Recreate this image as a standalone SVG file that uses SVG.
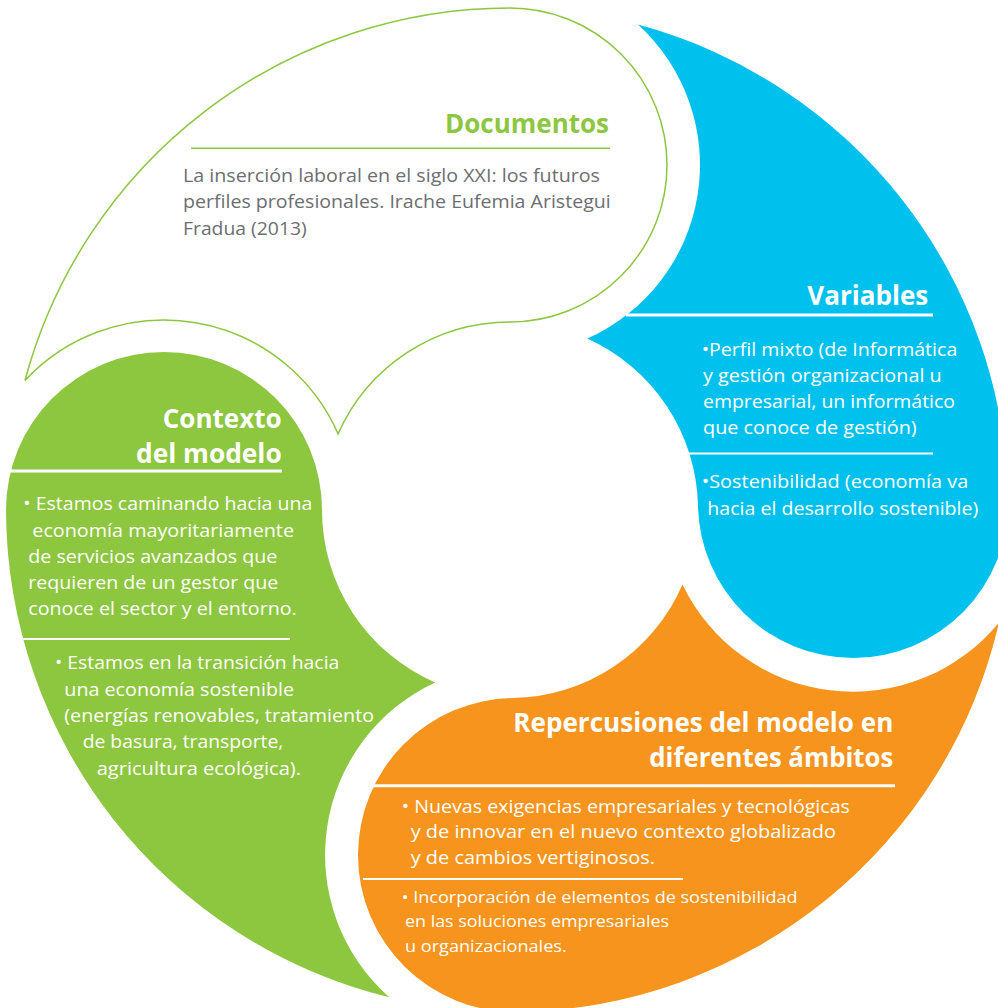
<svg xmlns="http://www.w3.org/2000/svg" width="998" height="1008" viewBox="0 0 998 1008">
<style>
.b{font-family:"Open Sans","Liberation Sans",sans-serif;font-size:18px;fill:#fff}
.gr{fill:#6d6e71}
.h{font-family:"Open Sans","Liberation Sans",sans-serif;font-weight:700;font-size:26px;fill:#fff}
.hg{fill:#8dc63f}
.wl{stroke:#fff;fill:none}
</style>
<rect width="998" height="1008" fill="#fff"/>

<g id="documentos">
<path d="M510,322 A157,157 0 0 0 667,165 A157,157 0 0 0 510,8 A502,502 0 0 0 25,380.5 A190,190 0 0 1 338.1,433.9 A188,188 0 0 1 510,322 Z" fill="#fff" stroke="#8dc63f" stroke-width="1.5"/>
<text class="h hg" x="445" y="133" textLength="164" lengthAdjust="spacingAndGlyphs">Documentos</text>
<line x1="191" y1="148.3" x2="610" y2="148.3" stroke="#8dc63f" stroke-width="1.6"/>
<text class="b gr" x="183" y="181.7" textLength="417" lengthAdjust="spacingAndGlyphs">La inserción laboral en el siglo XXI: los futuros</text>
<text class="b gr" x="183" y="208.3" textLength="427.7" lengthAdjust="spacingAndGlyphs">perfiles profesionales. Irache Eufemia Aristegui</text>
<text class="b gr" x="183" y="235" textLength="123.7" lengthAdjust="spacingAndGlyphs">Fradua (2013)</text>
</g>

<g id="variables">
<path d="M698,506.2 A155,155 0 0 0 853,658 A155,155 0 0 0 1008,500 A500,500 0 0 0 638,24.6 A190,190 0 0 1 587.2,338.6 A188,188 0 0 1 698,506.2 Z" fill="#00c1ed"/>
<text class="h" x="807.3" y="305" textLength="121" lengthAdjust="spacingAndGlyphs">Variables</text>
<line class="wl" x1="626" y1="315" x2="933" y2="315" stroke-width="3"/>
<text class="b" x="701.7" y="356" textLength="255.6" lengthAdjust="spacingAndGlyphs">•Perfil mixto (de Informática</text>
<text class="b" x="703" y="382.3" textLength="238.7" lengthAdjust="spacingAndGlyphs">y gestión organizacional u</text>
<text class="b" x="703" y="408.3" textLength="252" lengthAdjust="spacingAndGlyphs">empresarial, un informático</text>
<text class="b" x="703" y="434.3" textLength="213.7" lengthAdjust="spacingAndGlyphs">que conoce de gestión)</text>
<line class="wl" x1="688" y1="453.5" x2="933" y2="453.5" stroke-width="2"/>
<text class="b" x="701.7" y="488.3" textLength="266.6" lengthAdjust="spacingAndGlyphs">•Sostenibilidad (economía va</text>
<text class="b" x="707.3" y="515" textLength="271" lengthAdjust="spacingAndGlyphs">hacia el desarrollo sostenible)</text>
</g>

<g id="repercusiones">
<path d="M512.7,698 A157,157 0 0 0 358,855 A157,157 0 0 0 517,1012 A502,502 0 0 0 999,622.6 A189,189 0 0 1 682.5,584.5 A188,188 0 0 1 512.7,698 Z" fill="#f7941e"/>
<text class="h" x="513.3" y="731.7" textLength="380" lengthAdjust="spacingAndGlyphs">Repercusiones del modelo en</text>
<text class="h" x="649.3" y="767.3" textLength="244" lengthAdjust="spacingAndGlyphs">diferentes ámbitos</text>
<line class="wl" x1="372" y1="785.7" x2="895" y2="785.7" stroke-width="3"/>
<text class="b" x="401.7" y="812.7" textLength="448.3" lengthAdjust="spacingAndGlyphs">• Nuevas exigencias empresariales y tecnológicas</text>
<text class="b" x="410.7" y="838.3" textLength="425.3" lengthAdjust="spacingAndGlyphs">y de innovar en el nuevo contexto globalizado</text>
<text class="b" x="410.7" y="864" textLength="244.3" lengthAdjust="spacingAndGlyphs">y de cambios vertiginosos.</text>
<line class="wl" x1="363" y1="879" x2="683" y2="879" stroke-width="2"/>
<text class="b" x="401.7" y="903.3" textLength="396" lengthAdjust="spacingAndGlyphs" style="font-size:17px">• Incorporación de elementos de sostenibilidad</text>
<text class="b" x="405" y="927.3" textLength="264" lengthAdjust="spacingAndGlyphs" style="font-size:17px">en las soluciones empresariales</text>
<text class="b" x="405" y="951.7" textLength="161.7" lengthAdjust="spacingAndGlyphs" style="font-size:17px">u organizacionales.</text>
</g>

<g id="contexto">
<path d="M322,510 A158,158 0 0 0 164,352 A158,158 0 0 0 6,510 A503,503 0 0 0 389.2,997.2 A190,190 0 0 1 435.2,682.5 A188,188 0 0 1 322,510 Z" fill="#8dc63f"/>
<text class="h" x="162.7" y="428.3" textLength="119" lengthAdjust="spacingAndGlyphs">Contexto</text>
<text class="h" x="136" y="463.3" textLength="145.7" lengthAdjust="spacingAndGlyphs">del modelo</text>
<line class="wl" x1="11" y1="471" x2="282" y2="471" stroke-width="3"/>
<text class="b" x="23.3" y="510" textLength="289" lengthAdjust="spacingAndGlyphs">• Estamos caminando hacia una</text>
<text class="b" x="32.3" y="536.7" textLength="261.7" lengthAdjust="spacingAndGlyphs">economía mayoritariamente</text>
<text class="b" x="28.3" y="562.7" textLength="249" lengthAdjust="spacingAndGlyphs">de servicios avanzados que</text>
<text class="b" x="28.3" y="589.3" textLength="250" lengthAdjust="spacingAndGlyphs">requieren de un gestor que</text>
<text class="b" x="28.3" y="615" textLength="268.4" lengthAdjust="spacingAndGlyphs">conoce el sector y el entorno.</text>
<line class="wl" x1="23" y1="639" x2="290" y2="639" stroke-width="2"/>
<text class="b" x="55" y="669.3" textLength="284.3" lengthAdjust="spacingAndGlyphs">• Estamos en la transición hacia</text>
<text class="b" x="64.3" y="696" textLength="229.7" lengthAdjust="spacingAndGlyphs">una economía sostenible</text>
<text class="b" x="64.3" y="721.7" textLength="309.7" lengthAdjust="spacingAndGlyphs">(energías renovables, tratamiento</text>
<text class="b" x="82.7" y="748.3" textLength="200.6" lengthAdjust="spacingAndGlyphs">de basura, transporte,</text>
<text class="b" x="96.7" y="775" textLength="204.3" lengthAdjust="spacingAndGlyphs">agricultura ecológica).</text>
</g>

<g id="connectors"/>
</svg>
